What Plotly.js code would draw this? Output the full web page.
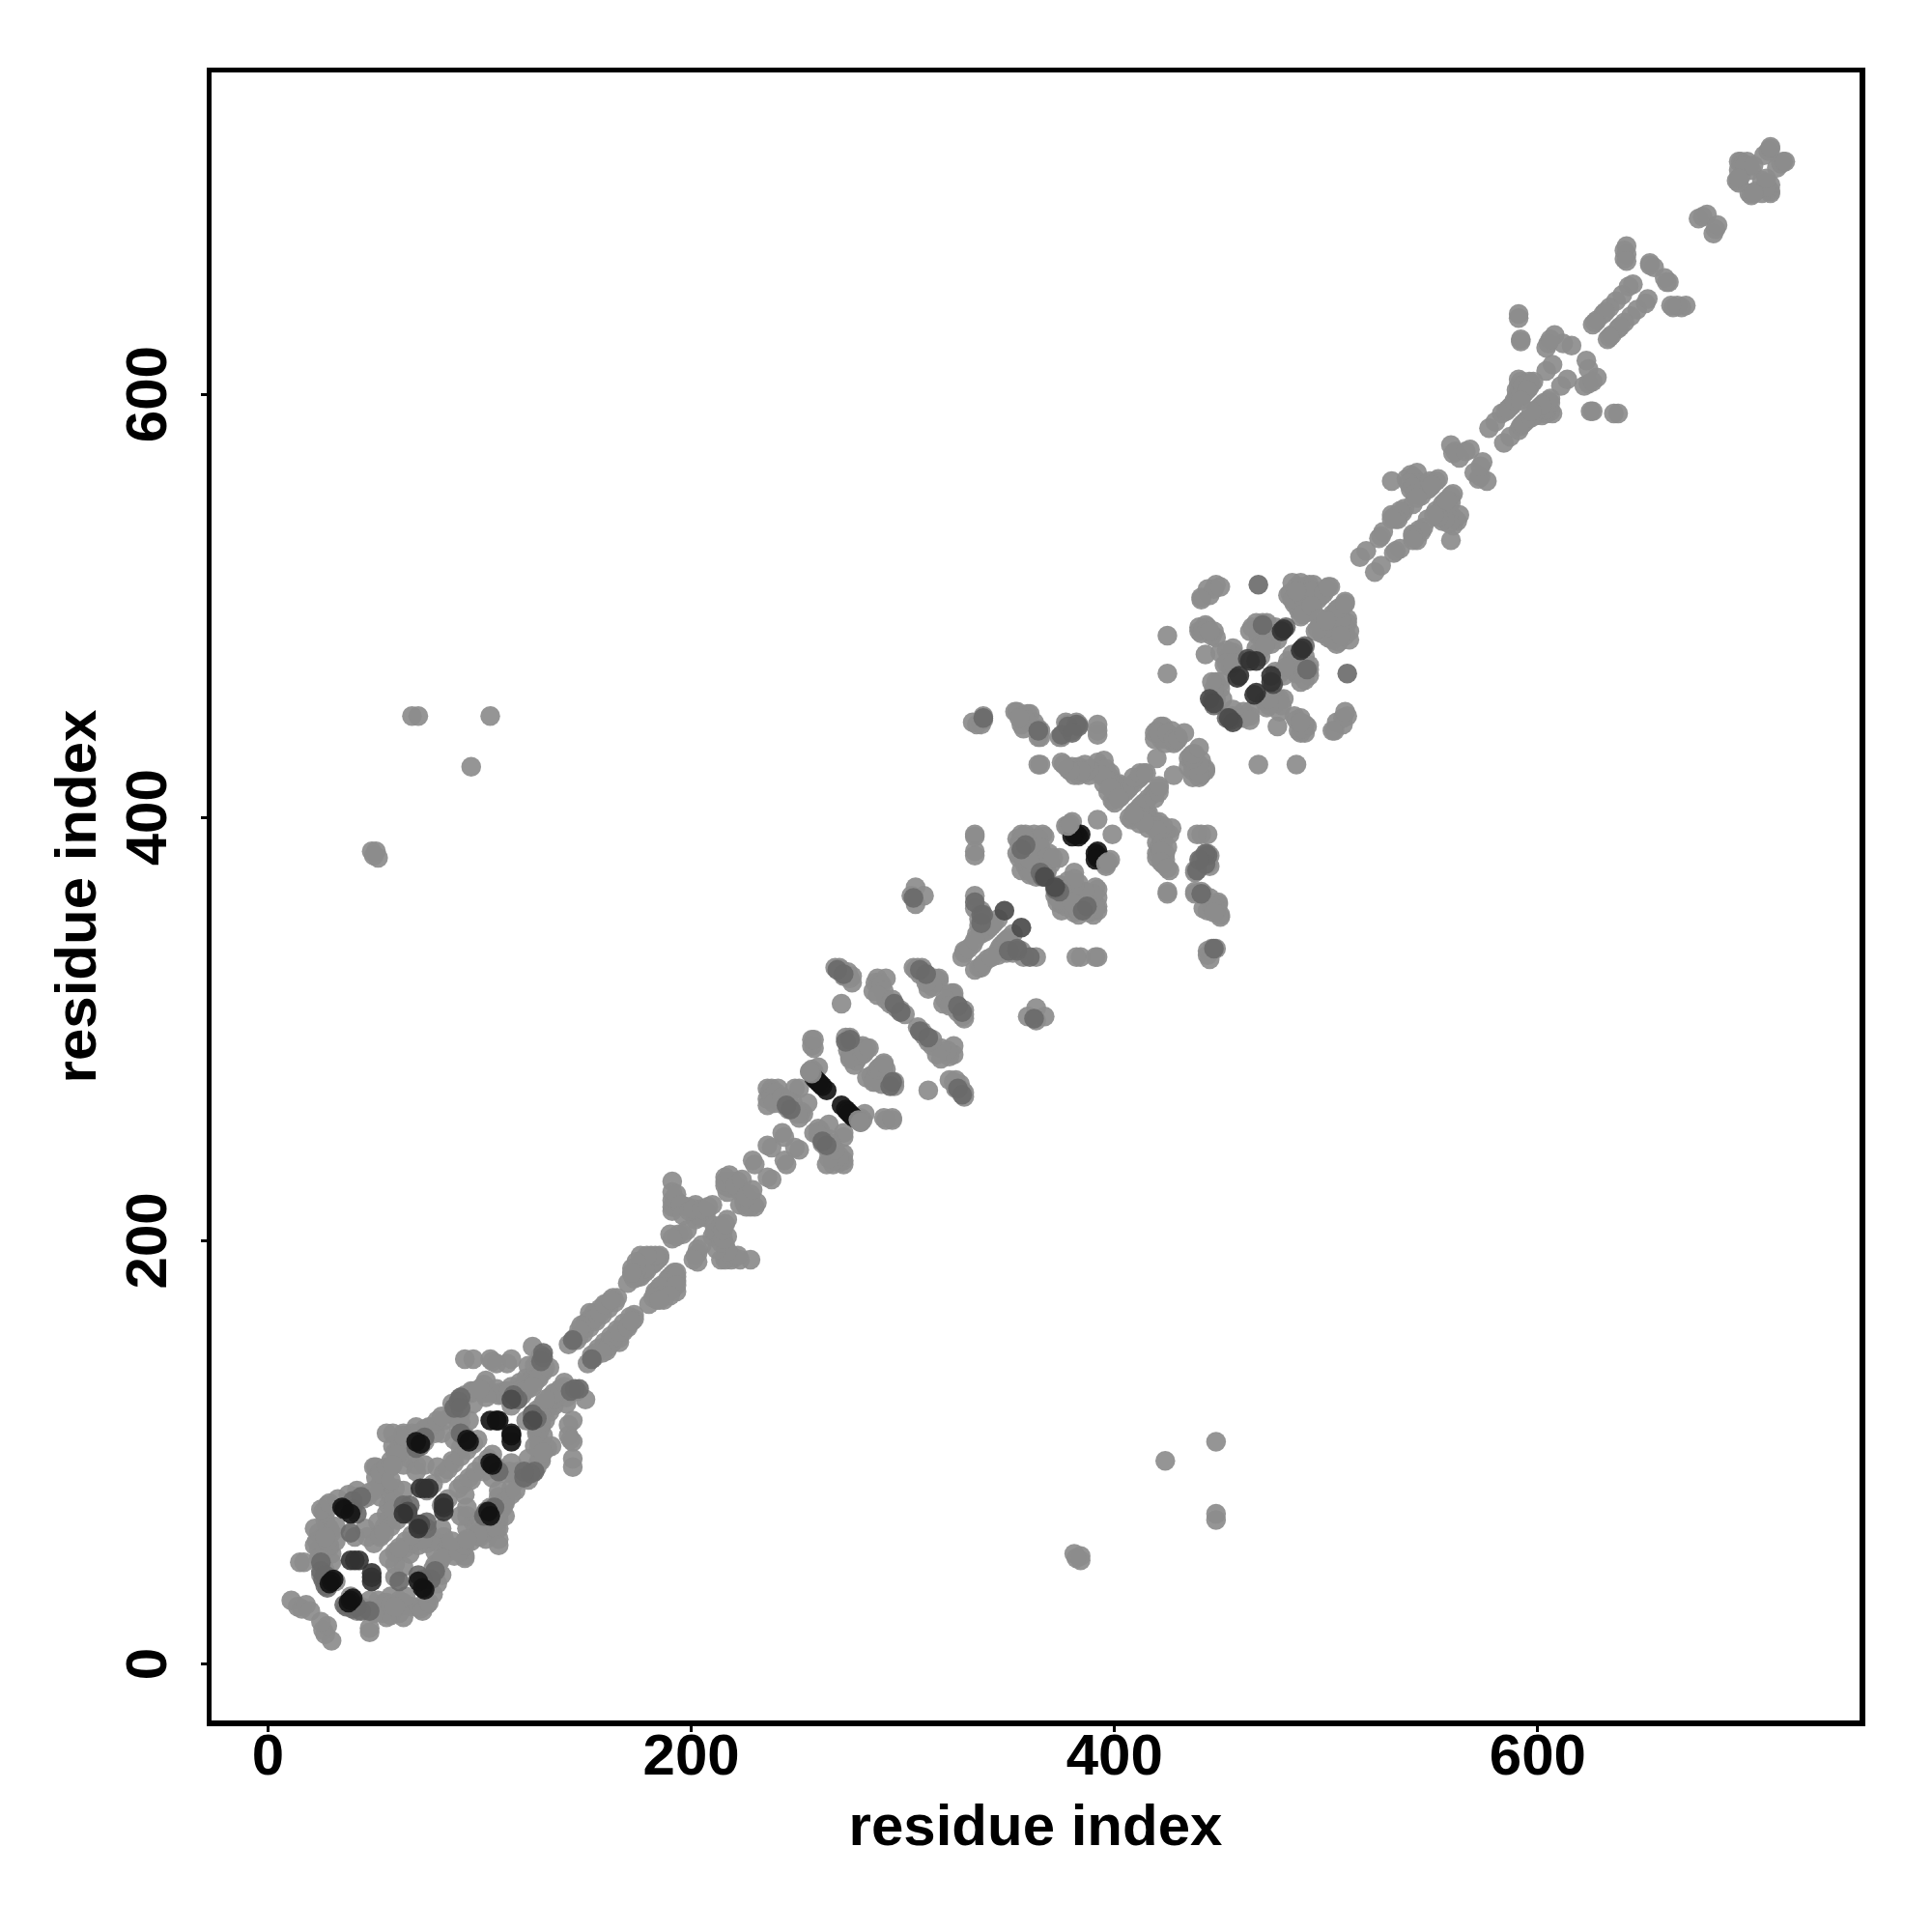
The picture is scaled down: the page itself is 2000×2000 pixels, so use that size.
<!DOCTYPE html>
<html><head><meta charset="utf-8">
<script src="https://cdn.plot.ly/plotly-3.0.1.min.js"></script>
<style>html,body{margin:0;padding:0;background:#fff}</style></head>
<body><div id="chart" style="width:2000px;height:2000px"></div>
<script>
// Contact pairs [residue i, residue j] with i<j, read from the upper triangle; the map is symmetric.
const contactsLight=[
[11,30],[14,27],[16,26],[18,28],[20,25],[15,48],[17,48],[23,58],[24,62],[24,54],[25,50],[26,47],[27,44],[25,42],[26,72],[27,68],[28,65],[26,60],[29,55],[30,52],[30,62],[32,58],[30,48],[29,56],[29,64],[27,71],[28,75],[32,39],
[25,73],[29,76],[33,78],[38,80],[42,82],[51,93],[51,88],[53,79],[56,85],[58,93],[59,103],[62,105],[68,109],[68,104],[53,85],[55,88],[57,84],[45,78],[48,81],[55,92],[60,100],[46,64],[52,67],[56,71],[58,79],[57,75],[60,83],[55,65],[57,68],
[88,106],[90,112],[91,118],[97,123],[102,128],[109,128],[96,128],[90,125],[87,118],[83,115],[79,109],[82,109],[74,105],[67,97],[65,102],[64,94],[70,94],[70,91],[22,64],[22,56],[24,50],[28,58],[32,65],[27,60],
[123,141],[127,137],[128,143],[130,138],[122,135],[119,133],[115,131],[111,127],[105,128],[121,132],[112,129],
[42,79],[47,79],[50,82],[50,93],[53,91],[53,90],[56,93],[58,96],[61,99],[59,109],[64,109],[64,108],[70,112],[74,111],[71,109],[77,112],[76,112],[80,115],[82,117],[87,123],[90,122],[93,127],[96,129],[97,129],[102,132],[103,134],[108,130],[109,127],[114,129],[118,126],[118,129],[121,129],[125,135],[126,141],[125,150],[129,146],[131,140],[128,136],[56,109],
[41,60],[47,60],[53,61],[58,65],[61,71],[60,77],[64,82],[59,73],[58,87],[59,94],[74,94],[80,93],[87,96],[91,102],[93,108],[99,106],[95,115],[91,114],
[93,144],[97,144],[105,144],[108,142],[113,142],[115,144],[106,143],[50,57],[53,60],[55,62],[61,68],[64,71],[75,82],[78,85],[83,90],[85,92],[88,95],[91,98],[94,101],[97,104],[108,115],[115,122],[118,125],[120,127],[123,130],[126,133],[128,135],[125,131],[133,140],[103,126],[100,130],
[142,151],[145,154],[150,159],[153,162],[147,155],[154,166],[152,163],[157,168],[160,170],[165,173],[163,173],[172,184],[176,193],[172,187],[181,193],[185,193],[185,192],[176,189],[181,189],[170,180],[175,183],[178,185],[193,202],[194,203],[191,214],[191,228],[191,223],[191,219],[194,218],[198,216],[202,217],[203,212],[210,217],[207,211],[202,210],[192,216],[219,228],[216,230],[222,228],[217,223],[220,225],[229,238],[236,245],[243,251],[230,236],[238,244],[244,249],
[146,153],[149,156],[152,159],[155,162],[158,165],[161,168],[164,171],[176,183],[179,186],[182,189],[184,191],[204,211],[207,214],
[150,161],[152,166],[154,163],[157,166],[159,170],[162,172],[148,160],[147,158],[177,191],[180,191],[183,190],[178,187],[174,186],[173,182],[183,193],[179,193],[174,190],[172,185],[191,216],[192,220],[193,222],[195,217],[196,212],[199,214],[201,215],[205,215],[208,216],[198,205],[196,203],[190,203],[191,201],[216,226],[218,225],[216,228],[218,231],[221,226],[224,229],
[238,272],[236,272],[241,272],[236,267],[241,266],[244,264],[249,261],[252,261],[247,263],[249,272],[257,281],[257,295],[257,292],[258,280],[260,282],[253,260],[251,258],[255,265],[236,264],[251,272],[258,291],[258,295],[256,280],
[237,270],[238,268],[240,270],[239,265],[243,268],[246,262],[248,265],[250,260],[246,266],[276,289],[278,289],[280,291],[274,290],[276,294],[281,292],[278,285],
[273,296],[276,291],[283,291],[279,287],[275,287],[277,283],[275,296],[277,292],[275,286],[281,288],[282,289],[284,291],
[268,329],[271,328],[273,325],[276,322],[271,312],[288,324],[292,324],[286,318],[292,314],[299,309],[296,311],[305,329],[309,329],[312,325],[316,322],[312,319],[317,324],[307,329],[310,327],[317,323],
[270,329],[272,325],[274,327],[275,324],[276,325],[287,322],[289,322],[290,321],[291,318],[288,316],[294,312],[295,314],[297,310],[301,307],[306,328],[308,326],[310,325],[313,323],[315,324],[314,320],[311,322],
[306,367],[304,363],[310,363],[306,359],
[334,392],[334,384],[334,363],[337,356],[334,357],[340,348],[337,345],[329,337],[328,334],[333,340],[334,382],[334,391],[338,352],[343,350],[345,352],[329,336],[331,338],[339,346],[341,348],[336,349],[336,352],[339,350],[335,345],[340,347],[342,349],[334,342],
[333,445],[338,446],[353,450],[356,448],[359,449],[357,442],[364,442],[364,438],[377,445],[382,445],[381,442],[374,438],[392,444],[392,441],[392,439],[383,444],[378,444],[375,438],[380,441],[364,425],[375,426],[380,424],[383,420],[386,421],[381,420],[395,427],[398,421],[395,416],[400,413],[399,408],[403,410],[414,421],[411,418],[407,414],[378,423],[383,424],[388,420],[392,426],[396,420],[398,419],[400,407],[397,412],[409,416],[412,419],[406,413],
[385,422],[390,422],[393,424],[396,423],[399,417],[401,411],[402,416],[403,415],[404,414],[405,412],[400,412],[396,418],[394,420],[398,414],[402,409],[388,423],[386,425],[384,422],[379,422],[376,425],[409,419],[412,421],[415,421],[420,441],[423,439],[426,439],[422,437],[419,440],[425,437],[428,435],
[420,428],[422,443],[427,441],[430,438],[419,437],[424,435],[423,443],[429,436],[421,440],[425,440],[428,437],[392,399],[377,396],[380,398],[430,437],[433,440],
[362,392],[366,392],[356,390],[356,386],[359,383],[356,392],[366,383],[374,381],[364,377],[368,374],[358,388],[360,387],[363,386],[354,383],[358,392],[363,381],[368,379],[368,375],[367,391],[369,383],[365,379],[367,375],[360,385],[370,378],
[355,388],[357,385],[358,380],[361,381],[362,378],[360,378],[359,375],[363,375],[357,390],[361,390],[364,390],[364,384],[362,383],[365,386],[368,381],[371,381],[357,381],[354,390],[366,375],[356,375],[358,377],[360,373],[363,372],[361,374],[355,381],[357,391],[356,387],[356,383],[360,380],
[365,425],[365,438],[365,441],[362,445],[354,450],[356,444],[360,449],[337,444],[338,448],[335,444],[357,448],[358,446],[355,447],
[448,510],[445,505],[441,504],[425,486],[425,468],[443,477],[440,490],[443,491],[447,488],[448,485],[441,487],[456,480],[455,474],[455,471],[448,464],[448,456],[444,508],[447,508],[467,492],[464,488],[472,492],[476,490],[467,480],[475,486],[477,484],[470,490],[455,477],[457,476],[450,478],[452,472],[450,509],[441,503],[447,459],[450,461],[451,456],[469,476],
[440,488],[442,489],[444,490],[446,486],[445,488],[456,478],[454,476],[453,479],[453,473],[456,473],[450,464],[447,461],[446,464],[470,488],[468,486],[470,484],[473,487],[465,490],[470,492],[468,478],[472,483],[474,482],[471,481],
[486,509],[490,509],[492,508],[485,501],[487,503],[492,505],[495,507],[487,498],[491,497],[490,499],[494,502],[498,505],[500,508],[483,506],[482,505],[488,509],[492,510],[485,503],
[484,511],[488,511],[494,510],[502,509],[484,503],[490,502],[488,495],[496,504],[494,497],[496,503],[489,496],[493,507],[486,507],[499,506],[501,509],[493,500],
[516,523],[519,526],[525,532],[527,535],[532,542],[531,543],[531,559],[541,561],[540,562],[543,556],[544,553],[552,559],[545,552],[541,548],[537,546],[534,541],[548,555],[553,560],[538,560],[542,558],[540,555],[546,557],[549,556],[526,533],[559,576],[563,570],[568,574],[561,573],[560,572],[566,573],[577,584],[580,587],[583,591],[591,607],[591,604],[597,605],[590,599],[587,594],[593,602],[594,601],[585,592],[588,595],[593,600],[596,603],[607,614],[604,611],[591,636],[592,626],[591,638],[592,625],[605,624],[608,628],[616,623],[612,624],[604,622],[606,626],[626,633],[628,635],[631,638],[634,641],[637,644],[640,647],[643,651],[645,652],[632,639],[627,634],[641,664],[641,668],[653,662],[655,660],[642,670],[642,666],[642,663],[653,661],[676,683],[678,684],[680,685],[696,710],[700,708],[695,700],[695,710],[701,706],[694,701],[710,716],[707,713],
[542,560],[543,563],[544,558],[546,555],[548,558],[539,558],[541,556],[542,553],[543,551],[536,544],[535,545],[533,541],[531,541],[549,559],[550,557],[586,593],[589,597],[590,602],[592,606],[594,605],[593,604],[596,606],[598,606],[592,599],[595,602],[592,597],[697,709],[699,710],[695,706],[696,703],[698,708],[695,702],[702,708],[709,715],[710,717],
[49,384],[51,384],[52,381],[50,382],[96,424],[68,448],[71,448],[105,448]
];
const contactsMid=[
[28,36],[27,37],[39,62],[26,40],[40,73],[42,71],[66,71],[67,75],[64,75],[71,105],[72,103],[91,109],[91,126],[118,125],[130,145],[130,147],[144,153],[245,264],[247,262],[275,295],[273,294],[269,328],[272,326],[299,308],[308,328],[311,326],[296,312],[305,362],[337,354],[337,350],[338,354],[334,360],[358,387],[356,385],[375,439],[382,444],[383,443],[378,443],[380,440],[364,441],[338,447],[468,510],[470,491],[481,490],[366,372],[365,374],[446,455],[447,453],
[40,77],[44,79],[25,44],[25,48],[27,42],[90,124],[116,127],[129,143],[74,107],[70,102],[88,121],[91,121]
];
const contactsSlate=[
[348,356],[367,372],[445,456],[447,454],[463,475],[115,125],[66,72]
];
const contactsDark=[
[39,49],[41,49],[43,49],[72,83],[74,83],[76,83],[64,71],[458,466],[459,467],[467,474],[464,474],[480,489],[479,488],[258,277]
];
const contactsBlack=[
[29,38],[30,39],[31,40],[35,74],[36,73],[39,71],[105,115],[108,115],[109,115],[94,106],[95,105],[72,104],[70,105],[260,275],[262,273],[264,271],[259,276],[261,274],[381,392],[382,392],[384,392],[383,391],[380,391]
];
const contactsOver=[
[257,279],[256,280],[378,396],[379,397]
];
const tickValues=[0,200,400,600];
const axisLabel='residue index';

function trace(pairs,color){
  return {type:'scatter',mode:'markers',
    x:pairs.map(p=>p[0]).concat(pairs.map(p=>p[1])),
    y:pairs.map(p=>p[1]).concat(pairs.map(p=>p[0])),
    marker:{size:20.5,color:color,line:{width:0}},hoverinfo:'skip'};
}
const font={family:'"Liberation Sans",Arial,sans-serif',size:60,color:'#000',weight:700};
const axis=(extra)=>Object.assign({tickmode:'array',tickvals:tickValues,ticktext:tickValues.map(String),
  showgrid:false,zeroline:false,showline:true,mirror:true,linecolor:'#000',linewidth:5.5,
  ticks:'outside',ticklen:6,tickwidth:3,tickcolor:'#000',tickfont:font},extra);
Plotly.newPlot('chart',[
  trace(contactsLight,'rgba(140,140,140,0.92)'),
  trace(contactsMid,'rgba(105,105,105,0.9)'),
  trace(contactsSlate,'rgba(75,75,75,0.92)'),
  trace(contactsDark,'rgba(50,50,50,0.9)'),
  trace(contactsBlack,'rgba(18,18,18,0.9)'),
  trace(contactsOver,'rgba(140,140,140,0.95)')
],{
  width:2000,height:2000,showlegend:false,paper_bgcolor:'#fff',plot_bgcolor:'#fff',
  margin:{l:218.5,r:74.5,t:74.5,b:218.5,pad:0},
  xaxis:axis({range:[-26.7,752.1],ticklabelstandoff:-28,title:{text:axisLabel,font:font,standoff:21}}),
  yaxis:axis({range:[-26.7,752.1],tickangle:-90,ticklabelstandoff:12,ticklabelshift:9,title:{text:axisLabel,font:font,standoff:0}})
},{displayModeBar:false,staticPlot:true});
</script></body></html>
